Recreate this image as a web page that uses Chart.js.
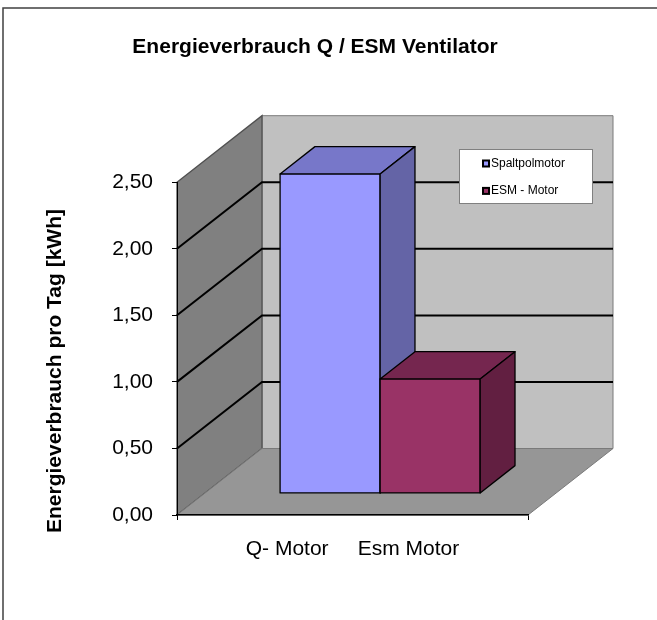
<!DOCTYPE html>
<html>
<head>
<meta charset="utf-8">
<script src="https://cdn.jsdelivr.net/npm/chart.js@4.4.0/dist/chart.umd.min.js"></script>
<style>
  html, body { margin: 0; padding: 0; background: #fff; }
</style>
</head>
<body>
<canvas id="chart" width="657" height="620"></canvas>
<script>
// data
const categories = ['Q- Motor     Esm Motor'];
const seriesNames = ['Spaltpolmotor', 'ESM - Motor'];
const spaltpolValues = [2.40];
const esmValues = [0.86];
const yTicks = [0, 0.5, 1, 1.5, 2, 2.5];
const yTitle = 'Energieverbrauch pro Tag [kWh]';

const frontColors = ['#9999ff', '#993366'];
const topColors = ['#7777c9', '#75264f'];
const sideColors = ['#6464a6', '#621f41'];

// 3D look: how far the back wall sits and where the bars sit inside that depth
const DX = 85;
const DY = -66.5;
const BAR_FRONT = 0.325;
const BAR_BACK = 0.735;

const FONT = '"Liberation Sans", Arial, sans-serif';
Chart.defaults.font.family = FONT;

const fmt = v => v.toFixed(2).replace('.', ',');

const poly = (ctx, pts, fill, stroke, lw) => {
  ctx.beginPath();
  ctx.moveTo(pts[0][0], pts[0][1]);
  for (let i = 1; i < pts.length; i++) ctx.lineTo(pts[i][0], pts[i][1]);
  ctx.closePath();
  if (fill) { ctx.fillStyle = fill; ctx.fill(); }
  if (stroke) { ctx.strokeStyle = stroke; ctx.lineWidth = lw || 1; ctx.stroke(); }
};

const box3d = {
  id: 'box3d',
  beforeDraw(chart) {
    const {ctx, chartArea: a} = chart;
    const y = chart.scales.y;
    const top = y.getPixelForValue(y.max);
    const bottom = y.getPixelForValue(y.min);
    const L = a.left, R = a.right;
    ctx.save();
    ctx.fillStyle = '#fff';
    ctx.fillRect(0, 0, chart.width, chart.height);
    // walls and floor
    poly(ctx, [[L + DX, top + DY], [R + DX, top + DY], [R + DX, bottom + DY], [L + DX, bottom + DY]], '#c0c0c0', '#7a7a7a');
    poly(ctx, [[L, top], [L + DX, top + DY], [L + DX, bottom + DY], [L, bottom]], '#808080', '#505050', 1.3);
    poly(ctx, [[L, bottom], [R, bottom], [R + DX, bottom + DY], [L + DX, bottom + DY]], '#969696', '#7a7a7a');
    // gridlines over left wall and back wall
    ctx.strokeStyle = '#000';
    ctx.lineWidth = 2;
    y.ticks.forEach(t => {
      if (t.value <= y.min || t.value >= y.max) return;
      const py = y.getPixelForValue(t.value);
      ctx.beginPath();
      ctx.moveTo(L, py);
      ctx.lineTo(L + DX, py + DY);
      ctx.lineTo(R + DX, py + DY);
      ctx.stroke();
    });
    ctx.restore();
  },
  beforeDatasetsDraw(chart) {
    const ctx = chart.ctx;
    const fx = DX * BAR_FRONT, fy = DY * BAR_FRONT;
    const bx = DX * (BAR_BACK - BAR_FRONT), by = DY * (BAR_BACK - BAR_FRONT);
    ctx.save();
    ctx.lineJoin = 'round';
    chart.data.datasets.forEach((ds, i) => {
      const meta = chart.getDatasetMeta(i);
      meta.data.forEach(bar => {
        const {x, y, base, width} = bar.getProps(['x', 'y', 'base', 'width'], true);
        const l = x - width / 2 + fx, r = x + width / 2 + fx;
        const t = y + fy, b = base + fy;
        poly(ctx, [[l, t], [r, t], [r, b], [l, b]], frontColors[i], '#000', 1.3);
        poly(ctx, [[l, t], [l + bx, t + by], [r + bx, t + by], [r, t]], topColors[i], '#000', 1.3);
        poly(ctx, [[r, t], [r + bx, t + by], [r + bx, b + by], [r, b]], sideColors[i], '#000', 1.3);
      });
    });
    ctx.restore();
    return false;
  },
  afterDraw(chart) {
    const ctx = chart.ctx;
    ctx.save();
    // legend
    ctx.fillStyle = '#fff';
    ctx.fillRect(459.5, 149.5, 133, 54);
    ctx.strokeStyle = '#808080';
    ctx.lineWidth = 1;
    ctx.strokeRect(459.5, 149.5, 133, 54);
    ctx.font = '12px ' + FONT;
    ctx.textBaseline = 'middle';
    ctx.textAlign = 'left';
    chart.data.datasets.forEach((ds, i) => {
      const cy = 163.5 + i * 27.4;
      ctx.fillStyle = '#000';
      ctx.fillRect(482, cy - 4, 8, 8);
      ctx.fillStyle = frontColors[i];
      ctx.fillRect(484, cy - 2, 4, 4);
      ctx.fillStyle = '#000';
      ctx.fillText(ds.label, 491, cy);
    });
    // y axis title
    ctx.translate(61, 371);
    ctx.rotate(-Math.PI / 2);
    ctx.font = 'bold 21px ' + FONT;
    ctx.textAlign = 'center';
    ctx.textBaseline = 'alphabetic';
    ctx.fillText(yTitle, 0, 0);
    ctx.restore();
    // outer frame
    ctx.save();
    ctx.strokeStyle = '#404040';
    ctx.lineWidth = 1.5;
    ctx.strokeRect(3, 8, 700, 700);
    ctx.restore();
  }
};

new Chart(document.getElementById('chart'), {
  type: 'bar',
  data: {
    labels: categories,
    datasets: [
      {label: seriesNames[0], data: spaltpolValues, backgroundColor: frontColors[0]},
      {label: seriesNames[1], data: esmValues, backgroundColor: frontColors[1]}
    ]
  },
  options: {
    responsive: false,
    animation: false,
    layout: {padding: {left: 102, right: 129, top: 0, bottom: 0}},
    datasets: {bar: {categoryPercentage: 0.57, barPercentage: 1}},
    plugins: {
      legend: {display: false},
      tooltip: {enabled: false},
      title: {
        display: true,
        text: 'Energieverbrauch Q / ESM Ventilator',
        color: '#000',
        font: {size: 21, weight: 'bold'},
        padding: {top: 35, bottom: 122}
      }
    },
    scales: {
      x: {
        grid: {display: true, drawOnChartArea: false, tickLength: 5, color: '#000'},
        border: {color: '#000', width: 1.5, z: 1},
        ticks: {color: '#000', font: {size: 21}, padding: 17, maxRotation: 0},
        afterFit: s => { s.height = 105; }
      },
      y: {
        min: 0,
        max: 2.5,
        afterBuildTicks: s => { s.ticks = yTicks.map(v => ({value: v})); },
        grid: {display: true, drawOnChartArea: false, tickLength: 5, color: '#000'},
        border: {color: '#000', width: 1, z: 1},
        ticks: {color: '#000', font: {size: 21}, padding: 19, callback: v => fmt(v)},
        afterFit: s => { s.width = 75; }
      }
    }
  },
  plugins: [box3d]
});
</script>
</body>
</html>
